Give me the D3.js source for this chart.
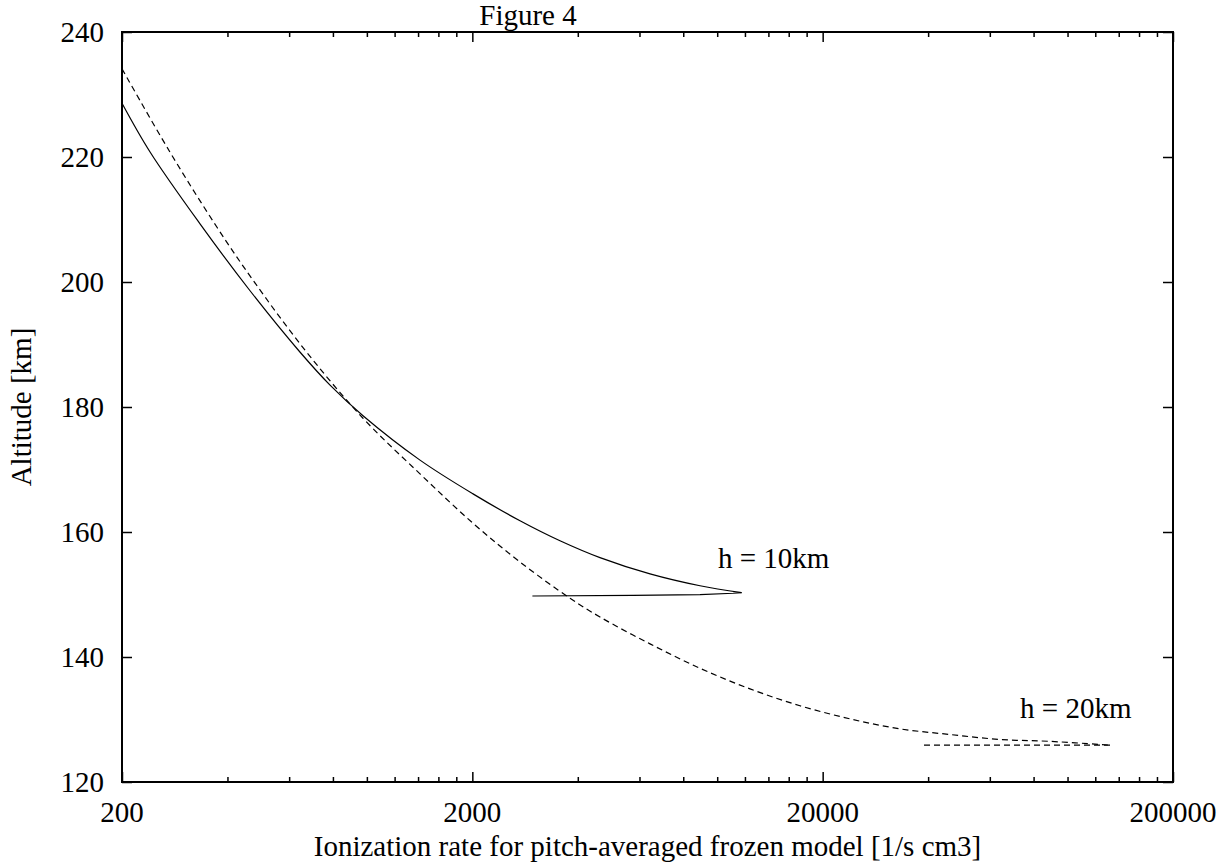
<!DOCTYPE html>
<html>
<head>
<meta charset="utf-8">
<script src="https://cdn.jsdelivr.net/npm/d3@7"></script>
<style>
  html, body { margin: 0; padding: 0; background: #fff; }
  svg { display: block; }
  svg text { font-family: "Liberation Serif", "Times New Roman", serif; fill: #000; font-size: 29px; }
</style>
</head>
<body>
<svg id="chart" width="1231" height="865"></svg>
<script>
// ---- data ----
const xMajorTicks = [200, 2000, 20000, 200000];
const xMinorTicks = [400, 600, 800, 1000, 1200, 1400, 1600, 1800,
                     4000, 6000, 8000, 10000, 12000, 14000, 16000, 18000,
                     40000, 60000, 80000, 100000, 120000, 140000, 160000, 180000];
const yTicks = [120, 140, 160, 180, 200, 220, 240];

// h = 10km (solid) : descending curve
const solidRate = [200, 240.5, 334, 464, 644, 785, 975, 1418, 2009, 2736, 3558, 4628, 6430, 8932, 11740];
const solidAlt  = [228.6, 220.8, 209.3, 198.6, 188.8, 183.5, 178.6, 171.5, 166.1, 161.8, 158.6, 155.9, 153.3, 151.4, 150.3];
// h = 10km (solid) : return branch
const solidBackRate = [11740, 11100, 8932, 5750, 2968];
const solidBackAlt  = [150.3, 150.2, 149.97, 149.87, 149.76];

// h = 20km (dashed) : descending curve
const dashRate = [200, 274, 373, 473, 666, 975, 1418, 2009, 2736, 3801, 4628, 6430, 8932, 12406, 17230, 23940, 33260, 46190, 64160, 89120, 132200];
const dashAlt  = [234.1, 220.8, 208.8, 200.3, 189.1, 178.2, 169.3, 161.4, 155.2, 149.4, 146.4, 142.1, 138.2, 134.9, 132.2, 130.1, 128.5, 127.6, 126.8, 126.5, 125.9];
// h = 20km (dashed) : return branch
const dashBackRate = [132200, 38360];
const dashBackAlt  = [125.9, 125.9];

const labels = [
  { text: "h = 10km", rate: 10054, alt: 154.3 },
  { text: "h = 20km", rate: 73180, alt: 130.2 }
];

const titleText = "Figure 4";
const xLabel = "Ionization rate for pitch-averaged frozen model [1/s cm3]";
const yLabel = "Altitude [km]";

// ---- layout ----
const L = 122, R = 1173, T = 32, B = 782;
const svg = d3.select("#chart");

const x = d3.scaleLog().domain([200, 200000]).range([L, R]);
const y = d3.scaleLinear().domain([120, 240]).range([B, T]);

function styleAxis(g) {
  g.attr("font-family", null).attr("font-size", null);
  g.select(".domain").remove();
  g.selectAll(".tick line").attr("stroke", "#000").attr("stroke-width", 1.5);
  g.selectAll(".tick text").remove();
}

svg.append("g").attr("transform", `translate(0,${B})`)
  .call(d3.axisBottom(x).tickValues(xMajorTicks).tickSize(-10)).call(styleAxis);
svg.append("g").attr("transform", `translate(0,${B})`)
  .call(d3.axisBottom(x).tickValues(xMinorTicks).tickSize(-5)).call(styleAxis);
svg.append("g").attr("transform", `translate(0,${T})`)
  .call(d3.axisTop(x).tickValues(xMajorTicks).tickSize(-10)).call(styleAxis);
svg.append("g").attr("transform", `translate(0,${T})`)
  .call(d3.axisTop(x).tickValues(xMinorTicks).tickSize(-5)).call(styleAxis);
svg.append("g").attr("transform", `translate(${L},0)`)
  .call(d3.axisLeft(y).tickValues(yTicks).tickSize(-10)).call(styleAxis);
svg.append("g").attr("transform", `translate(${R},0)`)
  .call(d3.axisRight(y).tickValues(yTicks).tickSize(-10)).call(styleAxis);

// tick labels (positioned by the scales)
svg.append("g").selectAll("text").data(xMajorTicks).enter().append("text")
  .attr("x", d => x(d)).attr("y", B + 40).attr("text-anchor", "middle").text(d => d);
svg.append("g").selectAll("text").data(yTicks).enter().append("text")
  .attr("x", L - 18).attr("y", d => y(d) + 10).attr("text-anchor", "end").text(d => d);

// frame
svg.append("rect").attr("x", L).attr("y", T).attr("width", R - L).attr("height", B - T)
  .attr("fill", "none").attr("stroke", "#000").attr("stroke-width", 2);

// curves
const curveLine = d3.line().x(d => x(d[0])).y(d => y(d[1])).curve(d3.curveCatmullRom.alpha(0.5));
const straight = d3.line().x(d => x(d[0])).y(d => y(d[1]));
const zip = (a, b) => a.map((v, i) => [v, b[i]]);

svg.append("path").attr("d", curveLine(zip(solidRate, solidAlt)))
  .attr("fill", "none").attr("stroke", "#000").attr("stroke-width", 1.2);
svg.append("path").attr("d", straight(zip(solidBackRate, solidBackAlt)))
  .attr("fill", "none").attr("stroke", "#000").attr("stroke-width", 1.2);

svg.append("path").attr("d", curveLine(zip(dashRate, dashAlt)))
  .attr("fill", "none").attr("stroke", "#000").attr("stroke-width", 1.2).attr("stroke-dasharray", "6,4");
svg.append("path").attr("d", straight(zip(dashBackRate, dashBackAlt)))
  .attr("fill", "none").attr("stroke", "#000").attr("stroke-width", 1.2).attr("stroke-dasharray", "6,4");

// annotations
svg.append("g").selectAll("text").data(labels).enter().append("text")
  .attr("x", d => x(d.rate)).attr("y", d => y(d.alt)).text(d => d.text);

// title
svg.append("text").attr("x", 528).attr("y", 25).attr("text-anchor", "middle").text(titleText);

// axis labels
svg.append("text").attr("x", (L + R) / 2).attr("y", 856).attr("text-anchor", "middle").text(xLabel);
svg.append("text").attr("transform", `translate(31,${(T + B) / 2}) rotate(-90)`)
  .attr("text-anchor", "middle").text(yLabel);
</script>
</body>
</html>
